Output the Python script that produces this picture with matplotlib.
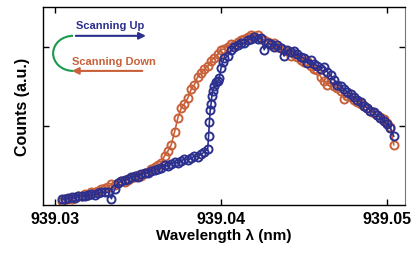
import matplotlib.pyplot as plt
from matplotlib.patches import Arc

plt.rcParams['font.family'] = ['Liberation Sans', 'DejaVu Sans']

# scanning down (orange)
wl_down = [939.0304, 939.0306, 939.0308, 939.0310, 939.0312, 939.0314, 939.0316, 939.0318, 939.0320, 939.0322,
           939.0324, 939.0326, 939.0328, 939.0330, 939.0332, 939.0334, 939.0336, 939.0338, 939.0340, 939.0342,
           939.0344, 939.0346, 939.0348, 939.0350, 939.0352, 939.0354, 939.0356, 939.0358, 939.0360, 939.0362,
           939.0364, 939.0366, 939.0368, 939.0370, 939.0372, 939.0374, 939.0376, 939.0378, 939.0380, 939.0382,
           939.0384, 939.0386, 939.0388, 939.0390, 939.0392, 939.0394, 939.0396, 939.0398, 939.0400, 939.0402,
           939.0404, 939.0406, 939.0408, 939.0410, 939.0412, 939.0414, 939.0416, 939.0418, 939.0420, 939.0422,
           939.0424, 939.0426, 939.0428, 939.0430, 939.0432, 939.0434, 939.0436, 939.0438, 939.0440, 939.0442,
           939.0444, 939.0446, 939.0448, 939.0450, 939.0452, 939.0454, 939.0456, 939.0458, 939.0460, 939.0462,
           939.0464, 939.0466, 939.0468, 939.0470, 939.0472, 939.0474, 939.0476, 939.0478, 939.0480, 939.0482,
           939.0484, 939.0486, 939.0488, 939.0490, 939.0492, 939.0494, 939.0496, 939.0498, 939.0500, 939.0502,
           939.0504]
counts_down = [0.05, 0.07, 0.08, 0.07, 0.10, 0.11, 0.12, 0.14, 0.13, 0.16,
               0.17, 0.18, 0.20, 0.22, 0.23, 0.26, 0.25, 0.28, 0.30, 0.29,
               0.32, 0.34, 0.35, 0.38, 0.37, 0.40, 0.42, 0.45, 0.48, 0.50,
               0.53, 0.62, 0.68, 0.76, 0.92, 1.10, 1.22, 1.28, 1.35, 1.46,
               1.52, 1.62, 1.66, 1.72, 1.75, 1.82, 1.86, 1.90, 1.96, 1.97,
               2.00, 2.03, 2.02, 2.06, 2.08, 2.10, 2.12, 2.14, 2.13, 2.15,
               2.10, 2.08, 2.06, 2.02, 2.05, 1.99, 1.98, 1.95, 1.94, 1.88,
               1.91, 1.87, 1.83, 1.80, 1.82, 1.76, 1.72, 1.70, 1.62, 1.56,
               1.52, 1.55, 1.50, 1.48, 1.44, 1.34, 1.38, 1.36, 1.33, 1.30,
               1.27, 1.25, 1.22, 1.19, 1.16, 1.14, 1.11, 1.08, 1.04, 0.99,
               0.76]

# scanning up (blue)
wl_up = [939.0304, 939.0306, 939.0308, 939.0310, 939.0312, 939.0314, 939.0316, 939.0318, 939.0320, 939.0322,
         939.0324, 939.0326, 939.0328, 939.0330, 939.0332, 939.0334, 939.0336, 939.0338, 939.0340, 939.0342,
         939.0344, 939.0346, 939.0348, 939.0350, 939.0352, 939.0354, 939.0356, 939.0358, 939.0360, 939.0362,
         939.0364, 939.0366, 939.0368, 939.0370, 939.0372, 939.0374, 939.0376, 939.0378, 939.0380, 939.0382,
         939.0384, 939.0386, 939.0388, 939.0390, 939.0392,
         939.03925, 939.0393, 939.03935, 939.0394, 939.03945, 939.0395, 939.0396, 939.0397, 939.0398, 939.0399,
         939.0400, 939.0401, 939.0402,
         939.0404, 939.0406, 939.0408, 939.0410, 939.0412, 939.0414, 939.0416, 939.0418, 939.0420, 939.0422,
         939.0424, 939.0426, 939.0428, 939.0430, 939.0432, 939.0434, 939.0436, 939.0438, 939.0440, 939.0442,
         939.0444, 939.0446, 939.0448, 939.0450, 939.0452, 939.0454, 939.0456, 939.0458, 939.0460, 939.0462,
         939.0464, 939.0466, 939.0468, 939.0470, 939.0472, 939.0474, 939.0476, 939.0478, 939.0480, 939.0482,
         939.0484, 939.0486, 939.0488, 939.0490, 939.0492, 939.0494, 939.0496, 939.0498, 939.0500, 939.0502,
         939.0504]
counts_up = [0.08, 0.07, 0.09, 0.10, 0.09, 0.11, 0.12, 0.11, 0.13, 0.14,
             0.13, 0.15, 0.17, 0.16, 0.16, 0.08, 0.20, 0.28, 0.30, 0.32,
             0.33, 0.35, 0.37, 0.36, 0.39, 0.41, 0.40, 0.43, 0.44, 0.46,
             0.47, 0.50, 0.49, 0.52, 0.54, 0.53, 0.56, 0.58, 0.57, 0.59,
             0.62, 0.61, 0.64, 0.67, 0.71,
             0.87, 1.05, 1.20, 1.28, 1.38, 1.44, 1.50, 1.55, 1.56, 1.60,
             1.73, 1.81, 1.85,
             1.88, 1.95, 2.00, 2.02, 2.05, 2.04, 2.08, 2.10, 2.12, 2.09,
             2.11, 1.96, 2.04, 2.03, 2.00, 2.02, 1.98, 1.88, 1.96, 1.93,
             1.94, 1.90, 1.87, 1.85, 1.79, 1.83, 1.78, 1.76, 1.72, 1.74,
             1.68, 1.64, 1.58, 1.52, 1.50, 1.46, 1.43, 1.40, 1.36, 1.33,
             1.30, 1.25, 1.23, 1.19, 1.17, 1.13, 1.10, 1.06, 1.02, 0.97,
             0.87]

xticks = [939.03, 939.04, 939.05]
xticklabels = ['939.03', '939.04', '939.05']

blue = '#2b2f8e'
orange = '#c8613a'
green = '#1b9a4c'

fig = plt.figure(figsize=(4.15, 2.55), dpi=100)
ax = fig.add_axes([0.1036, 0.192, 0.8724, 0.777])

ax.plot(wl_down, counts_down, '-o', color=orange, mfc='none', mec=orange,
        ms=5.8, mew=1.4, lw=1.2)
ax.plot(wl_up, counts_up, '-o', color=blue, mfc='none', mec=blue,
        ms=5.8, mew=1.4, lw=1.2)

ax.set_xlim(939.02928, 939.05108)
ax.set_ylim(0, 2.5)
ax.set_xticks(xticks)
ax.set_xticklabels(xticklabels, fontweight='bold', fontsize=11.5)
ax.set_yticks([1, 2])
ax.set_yticklabels([])
ax.tick_params(direction='in', top=True, right=True, length=4, width=1)
ax.tick_params(axis='x', pad=4)
for s in ['left', 'bottom', 'top']:
    ax.spines[s].set_linewidth(1)
ax.spines['right'].set_color('#777777')

ax.set_xlabel('Wavelength λ (nm)', fontweight='bold', fontsize=11, labelpad=2)
ax.set_ylabel('Counts (a.u.)', fontweight='bold', fontsize=11.5, labelpad=6)

# scan direction legend
ax.text(0.185, 0.909, 'Scanning Up', transform=ax.transAxes, color=blue,
        fontsize=8, fontweight='bold', ha='center', va='center')
ax.text(0.196, 0.727, 'Scanning Down', transform=ax.transAxes, color=orange,
        fontsize=8, fontweight='bold', ha='center', va='center')
ax.annotate('', xy=(0.292, 0.854), xytext=(0.083, 0.854), xycoords='axes fraction',
            arrowprops=dict(arrowstyle='-|>', color=blue, lw=1.5, mutation_scale=10))
ax.annotate('', xy=(0.072, 0.677), xytext=(0.282, 0.677), xycoords='axes fraction',
            arrowprops=dict(arrowstyle='-|>', color=orange, lw=1.5, mutation_scale=10))
ax.add_patch(Arc((0.083, 0.7655), 0.11, 0.177, theta1=90, theta2=270,
                 transform=ax.transAxes, color=green, lw=1.5))

fig.savefig('out.png', dpi=100)
